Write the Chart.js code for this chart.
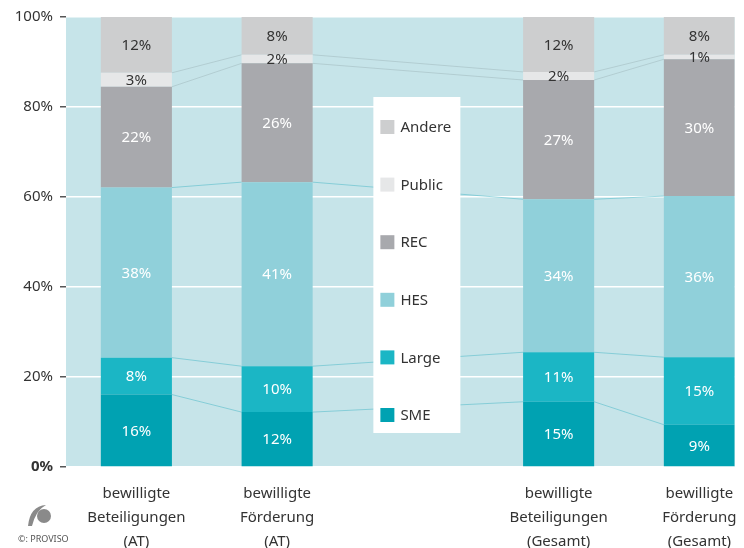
<!DOCTYPE html>
<html>
<head>
<meta charset="utf-8">
<script src="https://cdn.jsdelivr.net/npm/chart.js@4.4.1/dist/chart.umd.min.js"></script>
<style>
  html, body { margin: 0; padding: 0; background: #fff; }
  #wrap { width: 744px; height: 548px; position: relative; }
</style>
</head>
<body>
<div id="wrap"><canvas id="myChart" width="744" height="548"></canvas></div>
<script>
// categories (middle slot is left empty for the legend)
const categories = [
  ['bewilligte', 'Beteiligungen', '(AT)'],
  ['bewilligte', 'Förderung', '(AT)'],
  [],
  ['bewilligte', 'Beteiligungen', '(Gesamt)'],
  ['bewilligte', 'Förderung', '(Gesamt)']
];
const seriesNames = ['SME', 'Large', 'HES', 'REC', 'Public', 'Andere'];
const seriesColors = ['#00a2b2', '#1bb6c5', '#90d0da', '#a8a9ad', '#e6e7e8', '#cdcecf'];
const labelColors = ['#fff', '#fff', '#fff', '#fff', '#333', '#333'];

// shares in %
const sme    = [16.1, 12.2, null, 14.5, 9.4];
const large  = [8.2, 10.2, null, 11.0, 15.0];
const hes    = [37.8, 40.9, null, 34.0, 35.8];
const rec    = [22.4, 26.4, null, 26.5, 30.4];
const pub    = [3.1, 1.9, null, 1.8, 1.0];
const andere = [12.4, 8.4, null, 12.2, 8.4];

const yTicks = [0, 20, 40, 60, 80, 100];

const FONT = "'Noto Sans', 'Open Sans', sans-serif";
const allSeries = [sme, large, hes, rec, pub, andere];

function toPoints(arr) {
  const pts = [];
  arr.forEach(function(v, i) { if (v !== null) pts.push({ x: i, y: v }); });
  return pts;
}

const datasets = allSeries.map(function(arr, k) {
  return {
    label: seriesNames[k],
    data: toPoints(arr),
    backgroundColor: seriesColors[k],
    borderWidth: 0,
    barPercentage: 0.505,
    categoryPercentage: 1
  };
});

// plot background
const bgPlugin = {
  id: 'bg',
  beforeDraw: function(chart) {
    const a = chart.chartArea, c = chart.ctx;
    c.save();
    c.fillStyle = '#c6e4e9';
    c.fillRect(a.left, a.top, a.right - a.left, a.bottom - a.top);
    c.restore();
  }
};

// thin lines linking segment tops of neighbouring bars
const connectorPlugin = {
  id: 'connectors',
  beforeDatasetsDraw: function(chart) {
    const c = chart.ctx;
    c.save();
    c.lineWidth = 1;
    for (let k = 0; k < datasets.length - 1; k++) {
      const els = chart.getDatasetMeta(k).data;
      c.strokeStyle = k < 3 ? 'rgba(80,185,200,0.55)' : 'rgba(170,195,200,0.7)';
      for (let i = 0; i < els.length - 1; i++) {
        const a = els[i], b = els[i + 1];
        c.beginPath();
        c.moveTo(a.x + a.width / 2, a.y);
        c.lineTo(b.x - b.width / 2, b.y);
        c.stroke();
      }
    }
    c.restore();
  }
};

// value labels + legend box in the empty slot
const labelPlugin = {
  id: 'labels',
  afterDatasetsDraw: function(chart) {
    const c = chart.ctx;
    c.save();
    c.font = '15px ' + FONT;
    c.textAlign = 'center';
    c.textBaseline = 'middle';
    datasets.forEach(function(ds, k) {
      chart.getDatasetMeta(k).data.forEach(function(el, i) {
        c.fillStyle = labelColors[k];
        c.fillText(Math.round(ds.data[i].y) + '%', el.x, (el.y + el.base) / 2 + 1);
      });
    });

    // legend
    const xs = chart.scales.x, a = chart.chartArea;
    const cx = xs.getPixelForValue(2) - 1;
    const w = 87, h = 336;
    const left = cx - w / 2, top = a.top + 80;
    c.fillStyle = '#fff';
    c.fillRect(left, top, w, h);
    c.textAlign = 'left';
    for (let j = 0; j < seriesNames.length; j++) {
      const k = seriesNames.length - 1 - j;
      const y = top + 30 + j * 57.6;
      c.fillStyle = seriesColors[k];
      c.fillRect(left + 7, y - 7, 14, 14);
      c.fillStyle = '#333';
      c.fillText(seriesNames[k], left + 27, y + 1);
    }
    c.restore();
  },
  afterDraw: function(chart) {
    const c = chart.ctx;
    c.save();
    // small logo
    c.fillStyle = '#8a8a8a';
    c.beginPath();
    c.ellipse(44, 516, 7, 7, 0, 0, Math.PI * 2);
    c.fill();
    c.beginPath();
    c.moveTo(28, 526);
    c.quadraticCurveTo(30, 506, 46, 505);
    c.quadraticCurveTo(36, 510, 32, 526);
    c.closePath();
    c.fill();
    c.fillStyle = '#555';
    c.font = '9px ' + FONT;
    c.textAlign = 'left';
    c.textBaseline = 'middle';
    c.fillText('©: PROVISO', 18, 539);
    c.restore();
  }
};

window.addEventListener('load', function() {
  const ctx = document.getElementById('myChart');
  new Chart(ctx, {
    type: 'bar',
    data: { datasets: datasets },
    options: {
      responsive: false,
      animation: false,
      devicePixelRatio: 1,
      layout: { padding: { top: 17, right: 8, left: 0, bottom: 0 } },
      plugins: { legend: { display: false }, tooltip: { enabled: false } },
      scales: {
        x: {
          type: 'linear',
          stacked: true,
          offset: false,
          min: -0.5,
          max: 4.25,
          grid: { display: false, offset: false },
          border: { display: false },
          afterBuildTicks: function(scale) {
            scale.ticks = [0, 1, 3, 4].map(function(v) { return { value: v }; });
          },
          afterFit: function(scale) { scale.height = 81; },
          ticks: {
            autoSkip: false,
            maxRotation: 0,
            padding: 7,
            color: '#333',
            font: { family: FONT, size: 15, lineHeight: 1.6 },
            callback: function(v) { return categories[v] || ''; }
          }
        },
        y: {
          stacked: true,
          min: 0,
          max: 100,
          afterBuildTicks: function(scale) {
            scale.ticks = yTicks.map(function(v) { return { value: v }; });
          },
          afterFit: function(scale) { scale.width = 66; },
          border: { display: false },
          grid: {
            color: '#ffffff',
            lineWidth: 1.5,
            tickColor: '#555',
            tickLength: 6
          },
          ticks: {
            padding: 7,
            color: '#333',
            font: function(c) {
              return { family: FONT, size: 15, weight: c.tick && c.tick.value === 0 ? 'bold' : 'normal' };
            },
            callback: function(v) { return v + '%'; }
          }
        }
      }
    },
    plugins: [bgPlugin, connectorPlugin, labelPlugin]
  });
});
</script>
</body>
</html>
